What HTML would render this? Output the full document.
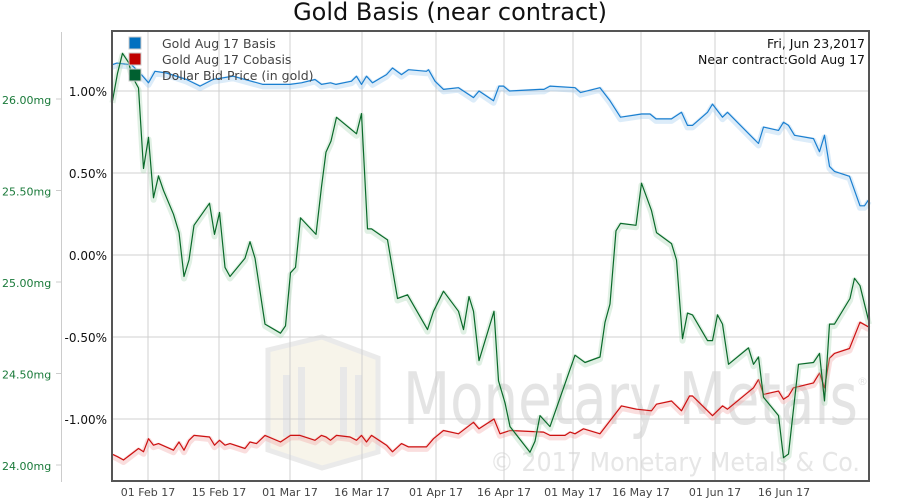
<!DOCTYPE html>
<html><head><meta charset="utf-8"><style>
html,body{margin:0;padding:0;background:#fff;}
svg{display:block;font-family:"DejaVu Sans","Liberation Sans",sans-serif;}
</style></head><body>
<svg id="chart" width="900" height="500" viewBox="0 0 900 500">
  <text x="450" y="20" text-anchor="middle" font-size="24" fill="#111">Gold Basis (near contract)</text>
  <g opacity="0.9">
    <polygon points="268,350 322,337 378,358 378,452 322,468 268,450" fill="#f7f3e8" stroke="#e8e8e8" stroke-width="5"/>
    <rect x="283" y="375" width="7" height="62" fill="#e6e6e6"/>
    <rect x="298" y="367" width="7" height="72" fill="#e6e6e6"/>
    <rect x="340" y="367" width="7" height="72" fill="#e6e6e6"/>
    <rect x="355" y="375" width="7" height="62" fill="#e6e6e6"/>
    <text x="403" y="424" font-size="72" fill="#e2e2e2" textLength="455" lengthAdjust="spacingAndGlyphs">Monetary Metals</text>
    <text x="857" y="385" font-size="11" fill="#e2e2e2">®</text>
    <text x="490" y="471" font-size="26" fill="#e4e4e4" textLength="370" lengthAdjust="spacingAndGlyphs">© 2017 Monetary Metals &amp; Co.</text>
  </g>
  <g id="grid"></g>
  <g id="axes"></g>
  <g id="series"></g>
  <rect x="112" y="31" width="757" height="450" fill="none" stroke="#555" stroke-width="2"/>
  <g>
    <g>
      <rect x="129" y="37" width="12" height="12" fill="#0070c0" stroke="#ccc"/>
      <text x="162" y="48" font-size="12.5" fill="#444">Gold Aug 17 Basis</text>
    </g>
    <g>
      <rect x="129" y="53" width="12" height="12" fill="#c00000" stroke="#ccc"/>
      <text x="162" y="64" font-size="12.5" fill="#444">Gold Aug 17 Cobasis</text>
    </g>
    <g>
      <rect x="129" y="69" width="12" height="12" fill="#006030" stroke="#ccc"/>
      <text x="162" y="80" font-size="12.5" fill="#444">Dollar Bid Price (in gold)</text>
    </g>
  </g>
  <text x="865" y="48" text-anchor="end" font-size="12.5" fill="#111">Fri, Jun 23,2017</text>
  <text x="865" y="64" text-anchor="end" font-size="12.5" fill="#111">Near contract:Gold Aug 17</text>
</svg>
<script>
const xTickDays = [7.2, 21.4, 35.6, 50, 64.8, 78.4, 92.2, 105.8, 120.6, 134.4];
const xTickLabels = ["01 Feb 17","15 Feb 17","01 Mar 17","16 Mar 17","01 Apr 17","16 Apr 17","01 May 17","16 May 17","01 Jun 17","16 Jun 17"];
const pctTicks = [1.0, 0.5, 0.0, -0.5, -1.0];
const pctTickLabels = ["1.00%","0.50%","0.00%","-0.50%","-1.00%"];
const mgTicks = [26.0, 25.5, 25.0, 24.5, 24.0];
const mgTickLabels = ["26.00mg","25.50mg","25.00mg","24.50mg","24.00mg"];

const basisDays = [0,1.0,3.9,5.6,7.3,8.6,10.9,14.9,17.6,20.2,24.2,30.2,35.6,37.9,40.6,41.9,43.7,44.8,47.9,48.9,49.9,50.9,52.1,54.9,56.1,57.9,59.3,62.9,63.3,64.6,66.3,69.3,72.3,73.4,76.3,77.4,78.3,79.5,85.6,86.4,87.6,92.6,93.7,97.6,99.6,101.7,105.9,107.6,108.8,111.9,113.9,115.1,116.1,119.1,120.1,122.1,123.1,128.3,129.3,130.3,133.3,134.3,135.3,136.5,140.3,141.5,142.5,143.5,144.5,147.5,149.6,150.5,151.4];
const basisValues = [1.16,1.17,1.16,1.11,1.05,1.12,1.11,1.07,1.03,1.07,1.09,1.04,1.04,1.05,1.07,1.04,1.05,1.04,1.06,1.09,1.04,1.09,1.05,1.10,1.14,1.10,1.13,1.12,1.13,1.06,1.01,1.02,0.96,1.00,0.94,1.03,1.03,1.00,1.01,1.01,1.03,1.02,0.99,1.02,0.94,0.84,0.86,0.86,0.83,0.83,0.87,0.79,0.79,0.87,0.92,0.84,0.87,0.71,0.68,0.78,0.76,0.81,0.79,0.73,0.71,0.63,0.73,0.54,0.51,0.48,0.30,0.30,0.34];

const cobasisDays = [0.1,1.1,2.3,5.3,6.3,7.3,8.3,9.3,12.3,13.4,14.4,15.4,16.4,19.5,20.5,21.5,22.6,23.6,26.6,27.6,28.9,30.6,33.7,35.7,37.6,40.6,41.9,42.8,43.7,44.9,47.6,48.9,49.9,50.9,51.9,54.9,56.1,57.9,59.3,62.9,64.3,66.3,69.3,72.3,73.4,76.4,77.6,79.6,86.3,87.6,90.6,91.6,92.6,94.3,97.6,101.9,104.9,107.9,108.9,111.9,113.9,115.5,116.1,120.1,122.1,123.1,128.3,129.3,130.3,133.3,134.3,135.3,136.3,140.3,141.5,142.5,143.5,144.5,147.5,149.6,151.4];
const cobasisValues = [-1.215,-1.23,-1.25,-1.18,-1.20,-1.12,-1.16,-1.15,-1.19,-1.14,-1.19,-1.13,-1.10,-1.11,-1.16,-1.13,-1.16,-1.15,-1.18,-1.14,-1.15,-1.10,-1.14,-1.10,-1.10,-1.13,-1.10,-1.11,-1.13,-1.10,-1.11,-1.13,-1.10,-1.14,-1.10,-1.16,-1.20,-1.15,-1.17,-1.17,-1.12,-1.07,-1.09,-1.02,-1.06,-1.00,-1.09,-1.07,-1.08,-1.10,-1.10,-1.08,-1.09,-1.06,-1.09,-0.92,-0.94,-0.95,-0.91,-0.89,-0.95,-0.86,-0.86,-0.98,-0.92,-0.94,-0.81,-0.76,-0.85,-0.83,-0.88,-0.86,-0.81,-0.78,-0.72,-0.81,-0.63,-0.60,-0.57,-0.41,-0.44];

const dollarDays = [0.1,1.1,2.1,3.3,4.1,5.3,6.3,7.3,8.3,9.3,10.3,12.3,13.4,14.4,15.4,16.4,19.5,20.5,21.5,22.6,23.6,26.6,27.6,28.6,30.6,33.7,34.7,35.7,36.7,37.7,40.8,41.9,42.8,43.8,44.9,48.9,49.9,51.1,51.9,55.1,57.1,59.1,63.1,64.3,66.3,69.3,70.3,71.4,72.3,73.4,76.4,77.3,78.6,79.6,83.6,84.6,85.6,87.6,92.6,94.6,97.6,98.6,99.6,100.8,101.7,104.8,105.9,107.9,108.9,111.9,112.9,114.1,115.1,116.1,119.1,120.1,121.1,122.1,123.3,127.3,128.3,129.3,130.3,133.3,134.3,135.3,137.3,140.3,141.5,142.5,143.5,144.5,147.6,148.5,149.6,151.4];
const dollarValues = [25.99,26.14,26.25,26.20,26.12,26.06,25.62,25.79,25.46,25.58,25.50,25.37,25.27,25.03,25.12,25.31,25.43,25.26,25.38,25.08,25.03,25.13,25.22,25.13,24.77,24.72,24.76,25.05,25.08,25.35,25.26,25.52,25.71,25.77,25.90,25.81,25.92,25.29,25.29,25.23,24.91,24.93,24.74,24.84,24.95,24.84,24.74,24.92,24.84,24.57,24.84,24.46,24.34,24.21,24.07,24.13,24.27,24.21,24.60,24.56,24.59,24.78,24.88,25.28,25.32,25.31,25.54,25.39,25.27,25.21,25.12,24.69,24.83,24.82,24.68,24.68,24.82,24.77,24.55,24.64,24.55,24.59,24.37,24.27,24.04,24.06,24.55,24.56,24.61,24.35,24.77,24.77,24.91,25.02,24.98,24.78];

const NS = "http://www.w3.org/2000/svg";
const X0 = 112, X1 = 869, DAYMAX = 151.4;
function xScale(d){ return X0 + (d / DAYMAX) * (X1 - X0); }
function yPct(v){ return 255 - v * 164; }
function yMg(v){ return 282 - (v - 25) * 183; }
function mk(tag, attrs, parent){
  const e = document.createElementNS(NS, tag);
  for (const k in attrs) e.setAttribute(k, attrs[k]);
  parent.appendChild(e);
  return e;
}
const grid = document.getElementById('grid');
const axes = document.getElementById('axes');
const series = document.getElementById('series');

pctTicks.forEach((t, i) => {
  const y = yPct(t);
  const l = mk('line', {x1: X0, x2: X1, y1: y, y2: y, stroke: '#d0d0d0', 'stroke-width': 1}, grid);
  
  
  const tx = mk('text', {x: 107, y: y + 5, 'text-anchor': 'end', 'font-size': 12, fill: '#111'}, axes);
  tx.textContent = pctTickLabels[i];
  
  
});
xTickDays.forEach((d, i) => {
  const x = xScale(d);
  const l = mk('line', {x1: x, x2: x, y1: 31, y2: 481, stroke: '#d0d0d0', 'stroke-width': 1}, grid);
  
  
  const tx = mk('text', {x: x, y: 496, 'text-anchor': 'middle', 'font-size': 11, fill: '#444'}, axes);
  tx.textContent = xTickLabels[i];
  
  
});
const mgAxis = mk('line', {x1: 61.5, x2: 61.5, y1: 32, y2: 482, stroke: '#ccc', 'stroke-width': 1}, axes);


mgTicks.forEach((t, i) => {
  const y = yMg(t);
  mk('line', {x1: 56, x2: 61, y1: y, y2: y, stroke: '#ccc'}, axes);
  const tx = mk('text', {x: 2, y: y + 5, 'font-size': 11, fill: '#1a7a3a'}, axes);
  tx.textContent = mgTickLabels[i];
  
  
});

function drawSeries(days, vals, ys, color, glow, name){
  const pts = days.map((d, i) => xScale(d).toFixed(1) + ',' + ys(vals[i]).toFixed(1)).join(' ');
  const g1 = mk('polyline', {points: pts, fill: 'none', stroke: glow, 'stroke-width': 6, 'stroke-opacity': 0.35, 'stroke-linejoin': 'round', transform: 'translate(0,2)'}, series);
  
  
  const p = mk('polyline', {points: pts, fill: 'none', stroke: color, 'stroke-width': 1.2, 'stroke-linejoin': 'round'}, series);
  
  
}
drawSeries(basisDays, basisValues, yPct, '#1a7fd0', '#9cc8ee', 'basis-line');
drawSeries(cobasisDays, cobasisValues, yPct, '#cc1111', '#f0a0a0', 'cobasis-line');
drawSeries(dollarDays, dollarValues, yMg, '#0a6a2a', '#a6d4b2', 'dollar-bid-line');
</script>
</body></html>
